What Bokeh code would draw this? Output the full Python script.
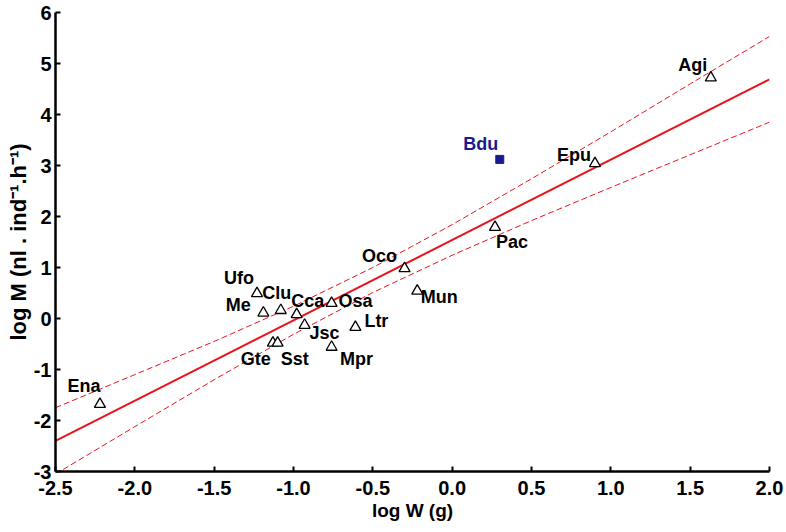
from bokeh.plotting import figure
from bokeh.models import ColumnDataSource, FixedTicker, PrintfTickFormatter, Range1d
from bokeh.core.properties import value
from bokeh.embed import file_html
from bokeh.resources import INLINE

# ---- data ----
species = ["Ena", "Ufo", "Clu", "Me", "Cca", "Osa", "Jsc", "Gte", "Sst",
           "Mpr", "Ltr", "Oco", "Mun", "Pac", "Epu", "Agi"]
log_w = [-2.22, -1.23, -1.08, -1.19, -0.98, -0.76, -0.93, -1.13, -1.10,
         -0.76, -0.61, -0.30, -0.22, 0.27, 0.90, 1.63]
log_m = [-1.68, 0.49, 0.16, 0.11, 0.08, 0.30, -0.13, -0.48, -0.48,
         -0.56, -0.17, 0.98, 0.54, 1.79, 3.04, 4.72]

outlier_species = ["Bdu"]
outlier_w = [0.30]
outlier_m = [3.12]

fit_x = [-2.5, 2.0]
fit_y = [-2.40, 4.69]

band_x = [-2.5, -2.0, -1.5, -1.0, -0.5, 0.0, 0.5, 1.0, 1.5, 2.0]
band_upper = [-1.75, -1.10, -0.45, 0.24, 1.00, 1.84, 2.74, 3.66, 4.60, 5.53]
band_lower = [-3.05, -2.12, -1.20, -0.31, 0.51, 1.24, 1.92, 2.57, 3.21, 3.85]

x_ticks = [-2.5, -2.0, -1.5, -1.0, -0.5, 0.0, 0.5, 1.0, 1.5, 2.0]
y_ticks = [-3, -2, -1, 0, 1, 2, 3, 4, 5, 6]

x_title = "log W (g)"
y_title = "log M (nl . ind\u207b\u00b9.h\u207b\u00b9)"

# label placement (screen px offsets from each marker)
label_dx = [-16, -18, -4, -25, 11, 24, 20, -17, 17, 25, 21, -25, 22, 17, -21, -18]
label_dy = [-18, -16, -17, -8, -13, -2, 8, 16, 16, 12, -6, -13, 6, 15, -8, -13]
outlier_dx = [-19]
outlier_dy = [-15]

FONT = "Liberation Sans"
RED = "#e8141c"
BLUE = "#1a1a8f"

p = figure(width=786, height=530, output_backend="svg", toolbar_location=None,
           x_range=Range1d(-2.5, 2.0), y_range=Range1d(-3, 6),
           min_border_left=55, min_border_right=17, min_border_top=12,
           min_border_bottom=59)
p.outline_line_color = None
p.xgrid.visible = False
p.ygrid.visible = False
p.background_fill_color = "white"
p.border_fill_color = "white"

# regression line and confidence bands
p.line(fit_x, fit_y, line_color=RED, line_width=2)
p.line(band_x, band_upper, line_color=RED, line_width=1, line_dash="6 3")
p.line(band_x, band_lower, line_color=RED, line_width=1, line_dash="6 3")

src = ColumnDataSource(dict(x=log_w, y=log_m, name=species, dx=label_dx, dy=label_dy))
p.scatter("x", "y", source=src, marker="triangle", size=11, fill_color="white",
          line_color="black", line_width=1.3)
p.text("x", "y", text="name", source=src, x_offset="dx", y_offset="dy",
       text_font=value(FONT), text_font_style="bold", text_font_size="18px",
       text_align="center", text_baseline="middle", text_color="black")

osrc = ColumnDataSource(dict(x=outlier_w, y=outlier_m, name=outlier_species,
                             dx=outlier_dx, dy=outlier_dy))
p.scatter("x", "y", source=osrc, marker="square", size=8, fill_color=BLUE,
          line_color=BLUE)
p.text("x", "y", text="name", source=osrc, x_offset="dx", y_offset="dy",
       text_font=value(FONT), text_font_style="bold", text_font_size="18px",
       text_align="center", text_baseline="middle", text_color=BLUE)

for ax in (p.xaxis[0], p.yaxis[0]):
    ax.axis_line_width = 2.5
    ax.axis_line_color = "black"
    ax.major_tick_in = 5
    ax.major_tick_out = 0
    ax.major_tick_line_width = 2
    ax.minor_tick_line_color = None
    ax.major_label_text_font = FONT
    ax.major_label_text_font_style = "bold"
    ax.major_label_text_font_size = "20px"
    ax.major_label_text_color = "black"
    ax.axis_label_text_font = FONT
    ax.axis_label_text_font_style = "bold"
    ax.axis_label_text_color = "black"

p.xaxis.axis_label_text_font_size = "19px"
p.yaxis.axis_label_text_font_size = "22px"
p.xaxis.ticker = FixedTicker(ticks=x_ticks)
p.xaxis.formatter = PrintfTickFormatter(format="%.1f")
p.yaxis.ticker = FixedTicker(ticks=y_ticks)
p.yaxis.formatter = PrintfTickFormatter(format="%d")
p.xaxis.axis_label = x_title
p.yaxis.axis_label = y_title
p.xaxis.major_label_standoff = 9
p.xaxis.axis_label_standoff = 2
p.yaxis.major_label_standoff = 4
p.yaxis.axis_label_standoff = 0

open("out.html", "w").write(file_html(p, INLINE))
